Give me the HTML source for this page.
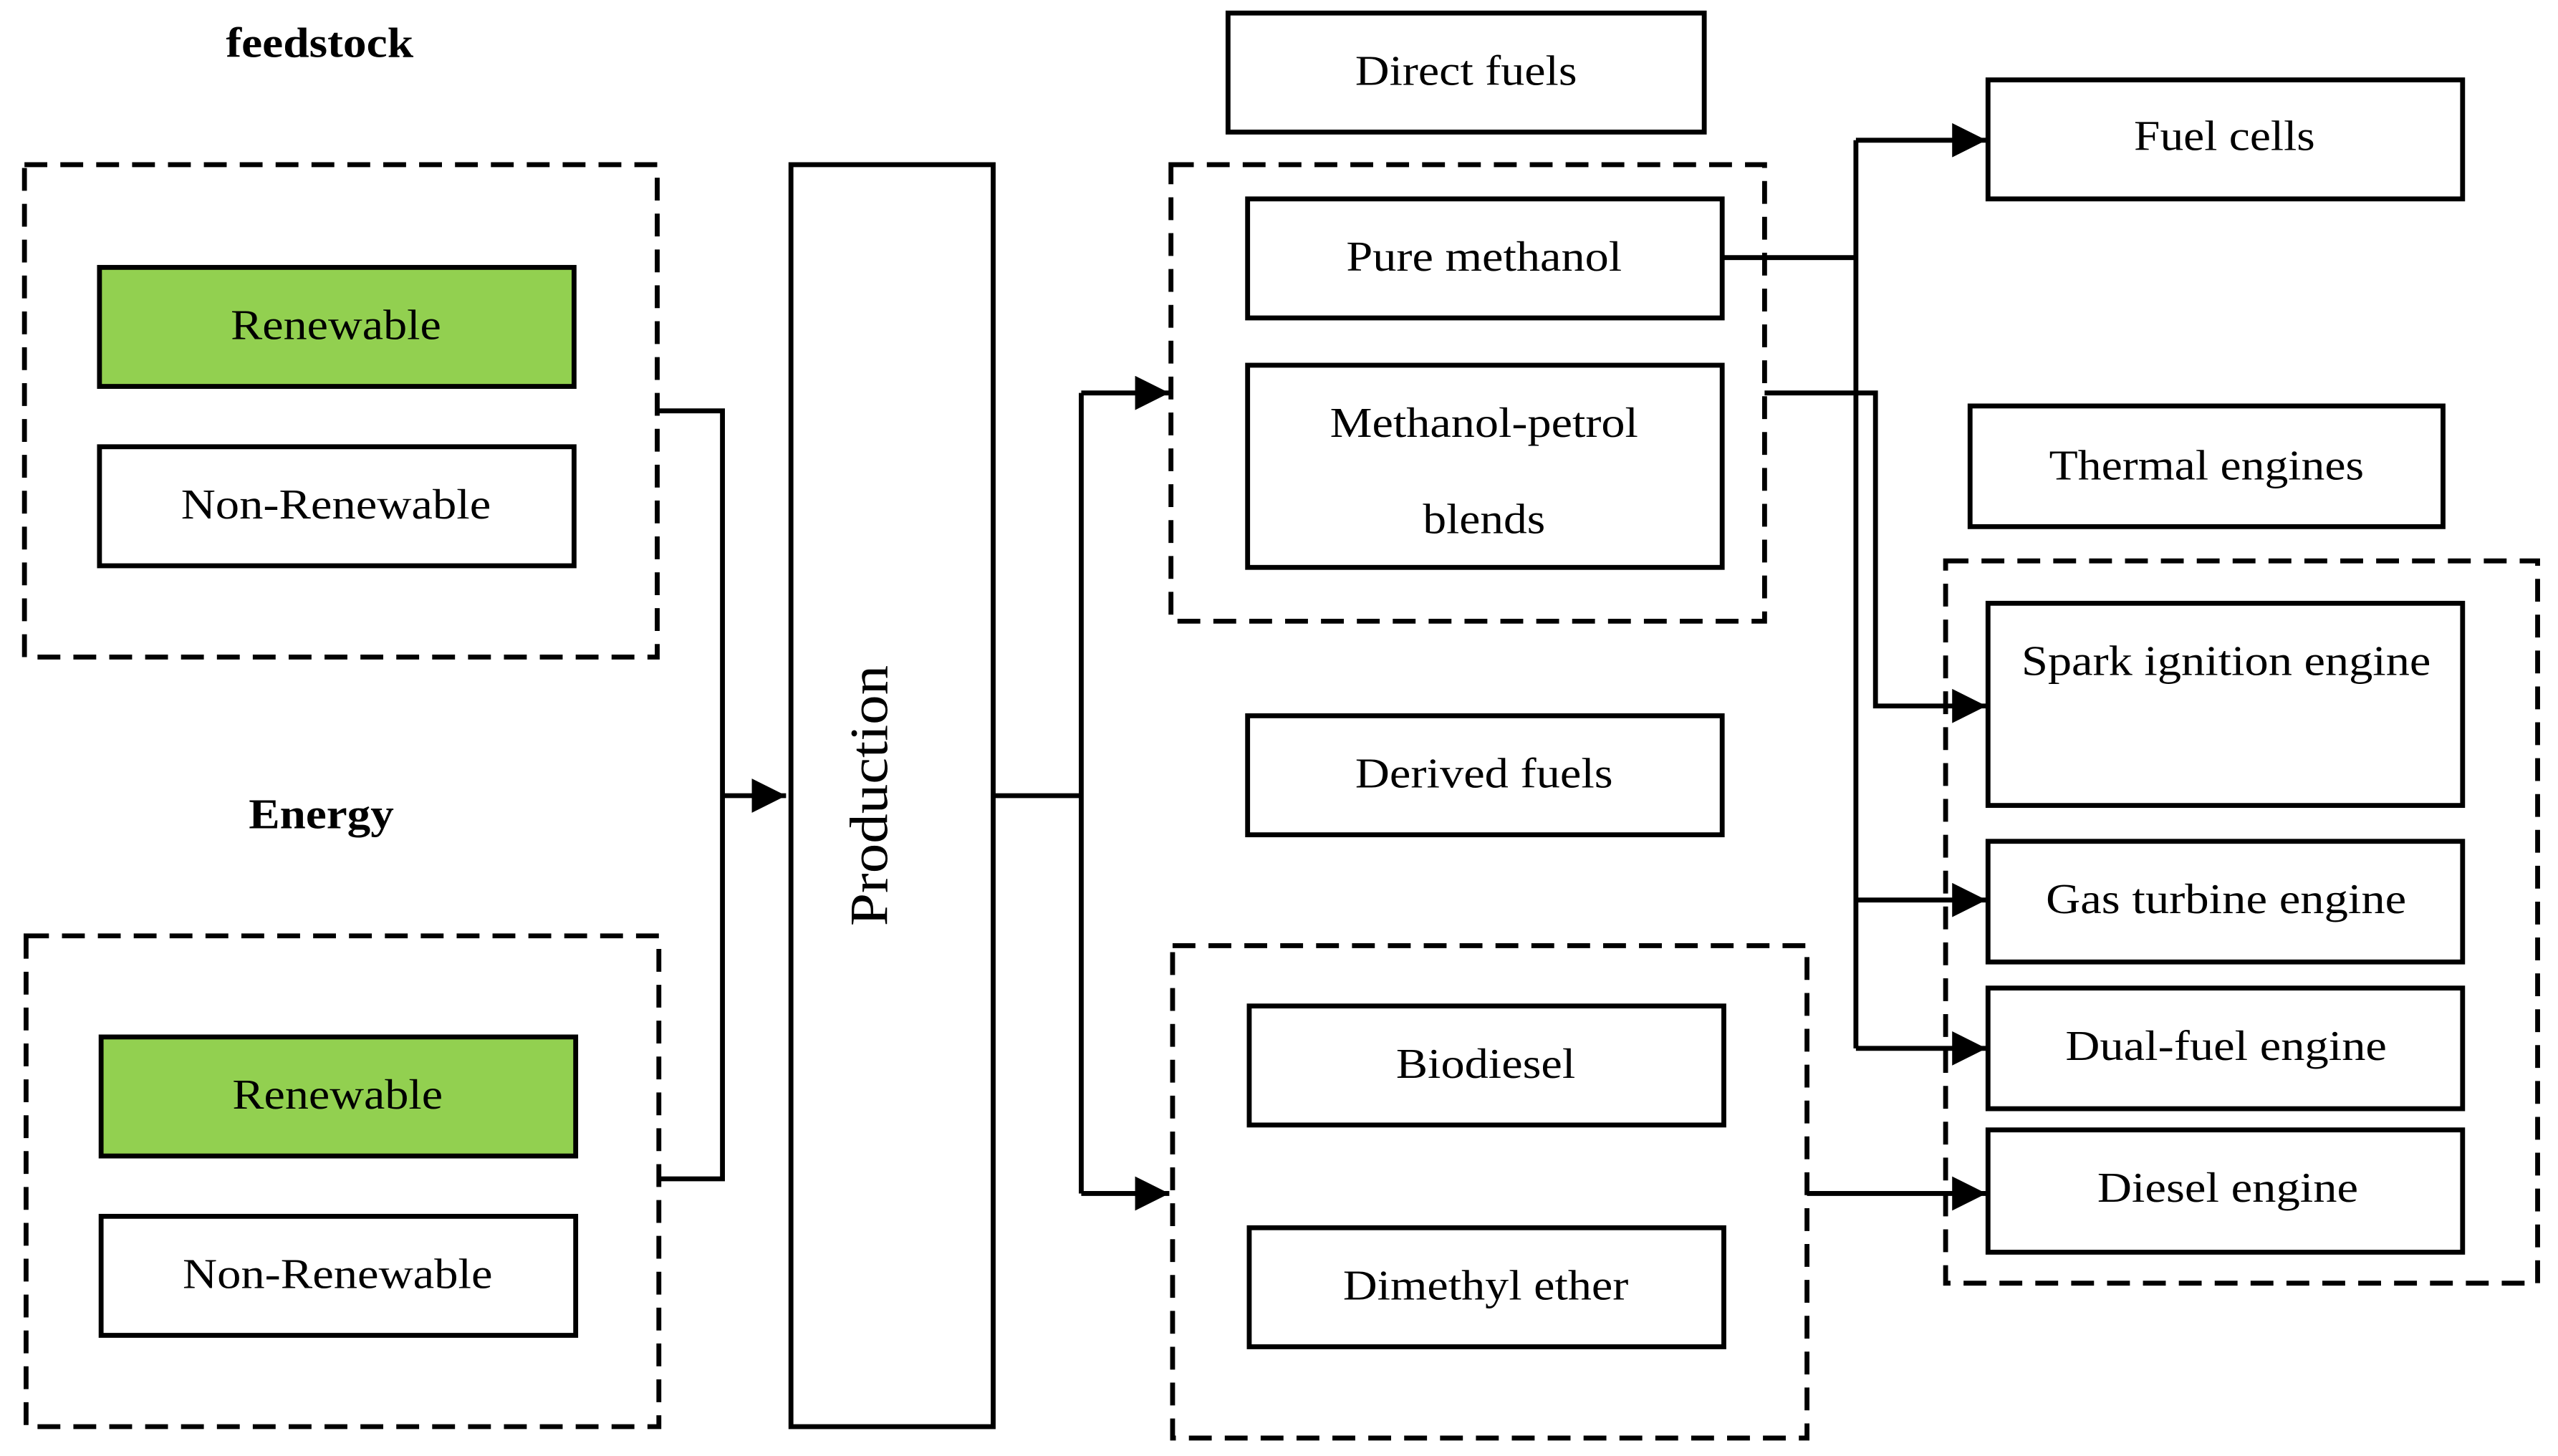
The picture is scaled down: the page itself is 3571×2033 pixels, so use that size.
<!DOCTYPE html>
<html><head><meta charset="utf-8"><style>html,body{margin:0;padding:0;background:#fff}svg{display:block}</style></head>
<body>
<svg width="3571" height="2033" viewBox="0 0 1568.5 893" preserveAspectRatio="none" xmlns="http://www.w3.org/2000/svg" font-family="'Liberation Serif', serif" font-size="26" text-anchor="middle">
<defs>
<marker id="a" viewBox="0 0 10 10" refX="10" refY="5" markerWidth="8" markerHeight="7" markerUnits="strokeWidth" orient="auto"><path d="M0,0 L10,5 L0,10 z" fill="#000"/></marker>
</defs>
<g fill="none" stroke="#000" stroke-width="3" stroke-dasharray="14,8">
<rect x="15" y="101" width="388" height="302"/>
<rect x="16" y="574" width="388" height="301"/>
<rect x="718" y="101" width="364" height="280"/>
<rect x="719" y="580" width="389" height="302"/>
<rect x="1193" y="344" width="363" height="443"/>
</g>
<g stroke="#000" stroke-width="3">
<rect x="61" y="164" width="291" height="73" fill="#92d050"/>
<rect x="61" y="274" width="291" height="73" fill="#fff"/>
<rect x="62" y="636" width="291" height="73" fill="#92d050"/>
<rect x="62" y="746" width="291" height="73" fill="#fff"/>
<rect x="485" y="101" width="124" height="774" fill="#fff"/>
<rect x="753" y="8" width="292" height="73" fill="#fff"/>
<rect x="765" y="122" width="291" height="73" fill="#fff"/>
<rect x="765" y="224" width="291" height="124" fill="#fff"/>
<rect x="765" y="439" width="291" height="73" fill="#fff"/>
<rect x="766" y="617" width="291" height="73" fill="#fff"/>
<rect x="766" y="753" width="291" height="73" fill="#fff"/>
<rect x="1219" y="49" width="291" height="73" fill="#fff"/>
<rect x="1208" y="249" width="290" height="74" fill="#fff"/>
<rect x="1219" y="370" width="291" height="124" fill="#fff"/>
<rect x="1219" y="516" width="291" height="74" fill="#fff"/>
<rect x="1219" y="606" width="291" height="74" fill="#fff"/>
<rect x="1219" y="693" width="291" height="75" fill="#fff"/>
</g>
<g fill="none" stroke="#000" stroke-width="3">
<path d="M403,252 H443 V723 H405"/>
<path d="M443,488 H482" marker-end="url(#a)"/>
<path d="M609,488 H663 M663,241 V732"/>
<path d="M663,241 H717" marker-end="url(#a)"/>
<path d="M663,732 H717" marker-end="url(#a)"/>
<path d="M1056,158 H1138 M1138,86 V643"/>
<path d="M1138,86 H1218" marker-end="url(#a)"/>
<path d="M1138,552 H1218" marker-end="url(#a)"/>
<path d="M1138,643 H1218" marker-end="url(#a)"/>
<path d="M1082,241 H1150 V433 H1218" marker-end="url(#a)"/>
<path d="M1108,732 H1218" marker-end="url(#a)"/>
</g>
<g fill="#000">
<text x="196" y="35" font-weight="bold" textLength="115" lengthAdjust="spacingAndGlyphs">feedstock</text>
<text x="197" y="508" font-weight="bold" textLength="89" lengthAdjust="spacingAndGlyphs">Energy</text>
<text x="206" y="208" textLength="129" lengthAdjust="spacingAndGlyphs">Renewable</text>
<text x="206" y="318" textLength="190" lengthAdjust="spacingAndGlyphs">Non-Renewable</text>
<text x="207" y="680" textLength="129" lengthAdjust="spacingAndGlyphs">Renewable</text>
<text x="207" y="790" textLength="190" lengthAdjust="spacingAndGlyphs">Non-Renewable</text>
<text transform="translate(544,488) rotate(-90)" font-size="33" textLength="160" lengthAdjust="spacingAndGlyphs">Production</text>
<text x="899" y="52" textLength="136" lengthAdjust="spacingAndGlyphs">Direct fuels</text>
<text x="910" y="166" textLength="169" lengthAdjust="spacingAndGlyphs">Pure methanol</text>
<text x="910" y="268" textLength="189" lengthAdjust="spacingAndGlyphs">Methanol-petrol</text>
<text x="910" y="327" textLength="75" lengthAdjust="spacingAndGlyphs">blends</text>
<text x="910" y="483" textLength="158" lengthAdjust="spacingAndGlyphs">Derived fuels</text>
<text x="911" y="661" textLength="110" lengthAdjust="spacingAndGlyphs">Biodiesel</text>
<text x="911" y="797" textLength="175" lengthAdjust="spacingAndGlyphs">Dimethyl ether</text>
<text x="1364" y="92" textLength="111" lengthAdjust="spacingAndGlyphs">Fuel cells</text>
<text x="1353" y="294" textLength="193" lengthAdjust="spacingAndGlyphs">Thermal engines</text>
<text x="1365" y="414" textLength="251" lengthAdjust="spacingAndGlyphs">Spark ignition engine</text>
<text x="1365" y="560" textLength="221" lengthAdjust="spacingAndGlyphs">Gas turbine engine</text>
<text x="1365" y="650" textLength="197" lengthAdjust="spacingAndGlyphs">Dual-fuel engine</text>
<text x="1366" y="737" textLength="160" lengthAdjust="spacingAndGlyphs">Diesel engine</text>
</g>
</svg>
</body></html>
